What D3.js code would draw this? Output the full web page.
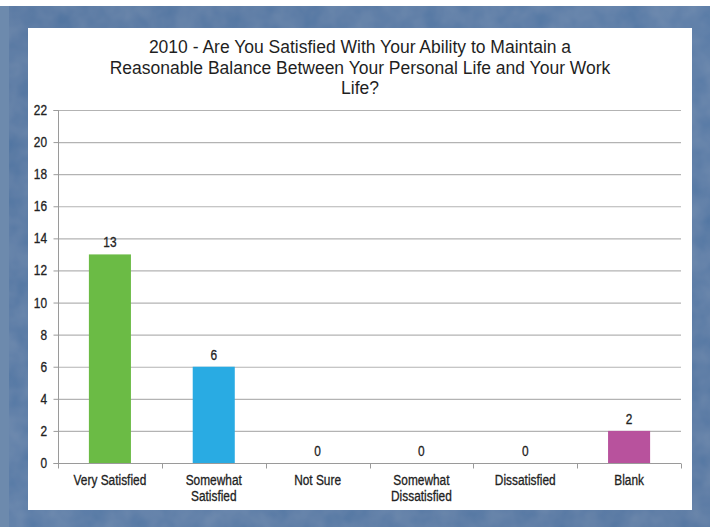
<!DOCTYPE html>
<html><head><meta charset="utf-8">
<script src="https://cdn.jsdelivr.net/npm/d3@7"></script>
<style>
html,body{margin:0;padding:0;background:#fff;}
svg{display:block;}
</style></head>
<body>
<svg id="c" width="717" height="527"></svg>
<script>
const categories = ["Very Satisfied", "Somewhat Satisfied", "Not Sure", "Somewhat Dissatisfied", "Dissatisfied", "Blank"];
const categoryLines = [["Very Satisfied"], ["Somewhat", "Satisfied"], ["Not Sure"], ["Somewhat", "Dissatisfied"], ["Dissatisfied"], ["Blank"]];
const values = [13, 6, 0, 0, 0, 2];
const barColors = ["#6bbb45", "#29abe3", "#8f8f8f", "#8f8f8f", "#8f8f8f", "#b8529d"];
const yTicks = [0, 2, 4, 6, 8, 10, 12, 14, 16, 18, 20, 22];
const titleLines = ["2010 - Are You Satisfied With Your Ability to Maintain a",
  "Reasonable Balance Between Your Personal Life and Your Work", "Life?"];

const svg = d3.select("#c");
const defs = svg.append("defs");
const g1 = defs.append("linearGradient").attr("id","bg").attr("x1","0").attr("y1","0").attr("x2","1").attr("y2","1");
g1.append("stop").attr("offset","0").attr("stop-color","#456b99");
g1.append("stop").attr("offset","0.5").attr("stop-color","#5178a6");
g1.append("stop").attr("offset","1").attr("stop-color","#4a6f9c");
const flt = defs.append("filter").attr("id","noise").attr("x","0").attr("y","0").attr("width","1").attr("height","1");
flt.append("feTurbulence").attr("type","fractalNoise").attr("baseFrequency","0.04").attr("numOctaves","3").attr("seed","3").attr("result","n");
flt.append("feColorMatrix").attr("in","n").attr("type","matrix")
  .attr("values","0 0 0 0 1  0 0 0 0 1  0 0 0 0 1  0 0 0 0.18 0").attr("result","a");
flt.append("feComposite").attr("in","a").attr("in2","SourceGraphic").attr("operator","atop");

svg.append("rect").attr("x",0).attr("y",6).attr("width",10).attr("height",521).attr("fill","#6d8aad");
svg.append("rect").attr("x",9).attr("y",6).attr("width",701).attr("height",521).attr("fill","url(#bg)");
svg.append("rect").attr("x",9).attr("y",6).attr("width",701).attr("height",521).attr("fill","#4d74a2").attr("filter","url(#noise)").attr("opacity",0.6);
svg.append("rect").attr("x",28).attr("y",28).attr("width",664).attr("height",482).attr("fill","#fff");

const title = svg.append("text").attr("text-anchor","middle")
  .attr("font-family","'Liberation Sans', Arial, sans-serif").attr("font-size",17.5).attr("fill","#1f1f1f");
titleLines.forEach((t,i)=>{
  title.append("tspan").attr("x",360).attr("y",53+i*20.5).text(t);
});

const m = {left:58, right:681, top:110, bottom:463};
const x = d3.scaleBand().domain(categories).range([m.left, m.right]).paddingInner(0.595).paddingOuter(0.2975);
const y = d3.scaleLinear().domain([0,22]).range([m.bottom, m.top]);
const fs = 14.5, sx = 0.82, tc = "#222";

function narrow(parent, px, py, txt, anchor){
  return parent.append("text")
    .attr("transform",`translate(${px},${py}) scale(${sx},1)`)
    .attr("text-anchor",anchor||"middle")
    .attr("font-family","'Liberation Sans', Arial, sans-serif")
    .attr("font-size",fs).attr("fill",tc)
    .attr("stroke",tc).attr("stroke-width",0.3)
    .text(txt);
}

svg.append("g").selectAll("line").data(yTicks.filter(d=>d>0)).join("line")
  .attr("x1",m.left).attr("x2",m.right)
  .attr("y1",d=>y(d)+0.5).attr("y2",d=>y(d)+0.5)
  .attr("stroke","#b3b3b3").attr("stroke-width",1.2);

const yAxis = svg.append("g").attr("transform",`translate(${m.left+0.5},0)`)
  .call(d3.axisLeft(y).tickValues(yTicks).tickSize(5).tickFormat(""));
yAxis.select(".domain").attr("stroke","#9a9a9a").attr("d",`M-5,${y(22)+0.5}H0V${y(0)+0.5}H-5`);
yAxis.selectAll(".tick line").attr("stroke","#9a9a9a");
const yLab = svg.append("g");
yTicks.forEach(v=>narrow(yLab, m.left-11, y(v)+5, d3.format("d")(v), "end"));

const xAxis = svg.append("g").attr("transform",`translate(0,${m.bottom+0.5})`);
xAxis.append("line").attr("x1",m.left).attr("x2",m.right).attr("stroke","#9a9a9a").attr("stroke-width",1.2);
const bounds = d3.range(categories.length+1).map(i=>m.left + i*(m.right-m.left)/categories.length);
xAxis.selectAll("line.t").data(bounds).join("line").attr("class","t")
  .attr("x1",d=>Math.round(d)+0.5).attr("x2",d=>Math.round(d)+0.5).attr("y1",0).attr("y2",5).attr("stroke","#9a9a9a");
const xLab = svg.append("g");
categories.forEach((c,i)=>{
  categoryLines[i].forEach((ln,j)=>narrow(xLab, x(c)+x.bandwidth()/2, m.bottom+22+j*16, ln));
});

svg.append("g").selectAll("rect").data(values).join("rect")
  .attr("x",(d,i)=>x(categories[i]))
  .attr("y",d=>y(d))
  .attr("width",x.bandwidth())
  .attr("height",d=>y(0)-y(d))
  .attr("fill",(d,i)=>barColors[i]);

const vLab = svg.append("g");
values.forEach((v,i)=>narrow(vLab, x(categories[i])+x.bandwidth()/2, y(v)-7, String(v)));
</script>
</body></html>
